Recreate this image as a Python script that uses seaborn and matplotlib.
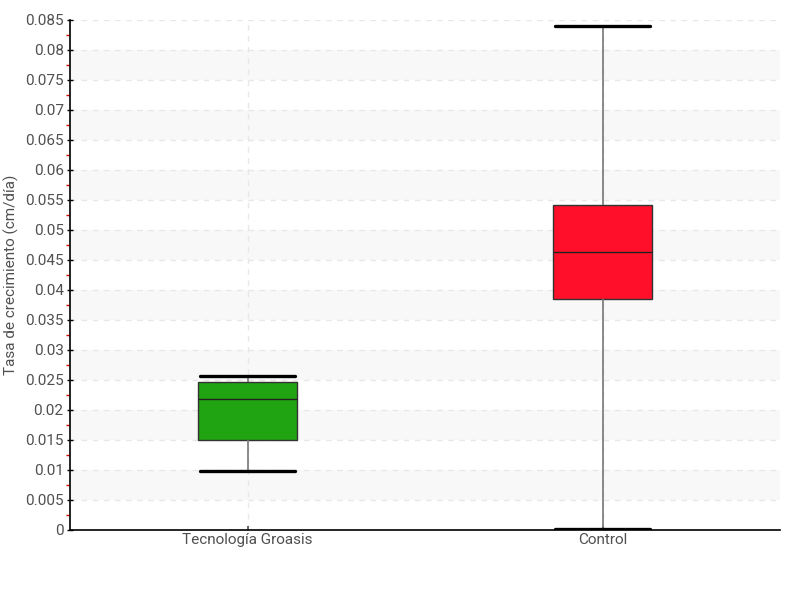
import numpy as np
import pandas as pd
import matplotlib
matplotlib.use("Agg")
import matplotlib as mpl
import matplotlib.pyplot as plt
import seaborn as sns

# data: five-number summaries (min, q1, median, q3, max)
groups = ["Tecnología Groasis", "Control"]
groasis_vals = [0.0098, 0.0150, 0.0218, 0.0247, 0.0257]
control_vals = [0.0002, 0.0385, 0.0463, 0.0542, 0.0840]
box_colors = ["#21a411", "#ff0f29"]

y_max = 0.085
y_step = 0.005

sns.set_theme(style="white")
plt.rcParams['font.family'] = ['Roboto', 'DejaVu Sans']

df = pd.DataFrame({
    "grupo": [groups[0]] * len(groasis_vals) + [groups[1]] * len(control_vals),
    "tasa": groasis_vals + control_vals,
})

fig = plt.figure(figsize=(8, 6), dpi=100)
ax = fig.add_axes([0.0875, 0.1167, 0.8875, 0.85])

# alternating background bands
for lo in np.arange(y_step, y_max, 2 * y_step):
    ax.axhspan(lo, lo + y_step, color="#f8f8f8", zorder=0, lw=0)

sns.boxplot(data=df, x="grupo", y="tasa", hue="grupo", palette=box_colors,
            order=groups, hue_order=groups, whis=(0, 100), width=0.28,
            saturation=1, linewidth=1, legend=False, ax=ax,
            boxprops=dict(edgecolor="#333333"),
            medianprops=dict(color="#222222", linewidth=1),
            whiskerprops=dict(color="#777777", linewidth=1.2),
            capprops=dict(color="black", linewidth=2.4),
            capwidths=0.27)

ax.set_xlim(-0.5, 1.5)
ax.set_ylim(0, y_max)
ax.yaxis.set_major_locator(mpl.ticker.MultipleLocator(y_step))
ax.yaxis.set_minor_locator(mpl.ticker.MultipleLocator(y_step / 2))
ax.yaxis.set_major_formatter(mpl.ticker.FormatStrFormatter('%g'))

ax.grid(True, axis="both", which="major", color="#e8e8e8", linestyle=(0, (4, 4)), linewidth=1)
ax.set_axisbelow(True)

for s in ["top", "right"]:
    ax.spines[s].set_visible(False)
for s in ["left", "bottom"]:
    ax.spines[s].set_color("black")
    ax.spines[s].set_linewidth(1.2)

ax.tick_params(axis="y", which="major", direction="inout", length=5, width=1, color="black",
               labelsize=11, labelcolor="#505050", pad=2, left=True)
ax.tick_params(axis="y", which="minor", direction="out", length=3, width=1, color="#dd0000", left=True)
ax.tick_params(axis="x", which="major", direction="in", length=3, color="#555555",
               labelsize=11, labelcolor="#505050", pad=2, bottom=True)

ax.set_xlabel("")
ax.set_ylabel("Tasa de crecimiento (cm/día)", fontsize=11, color="#505050", labelpad=4)

fig.savefig("out.png", dpi=100)
